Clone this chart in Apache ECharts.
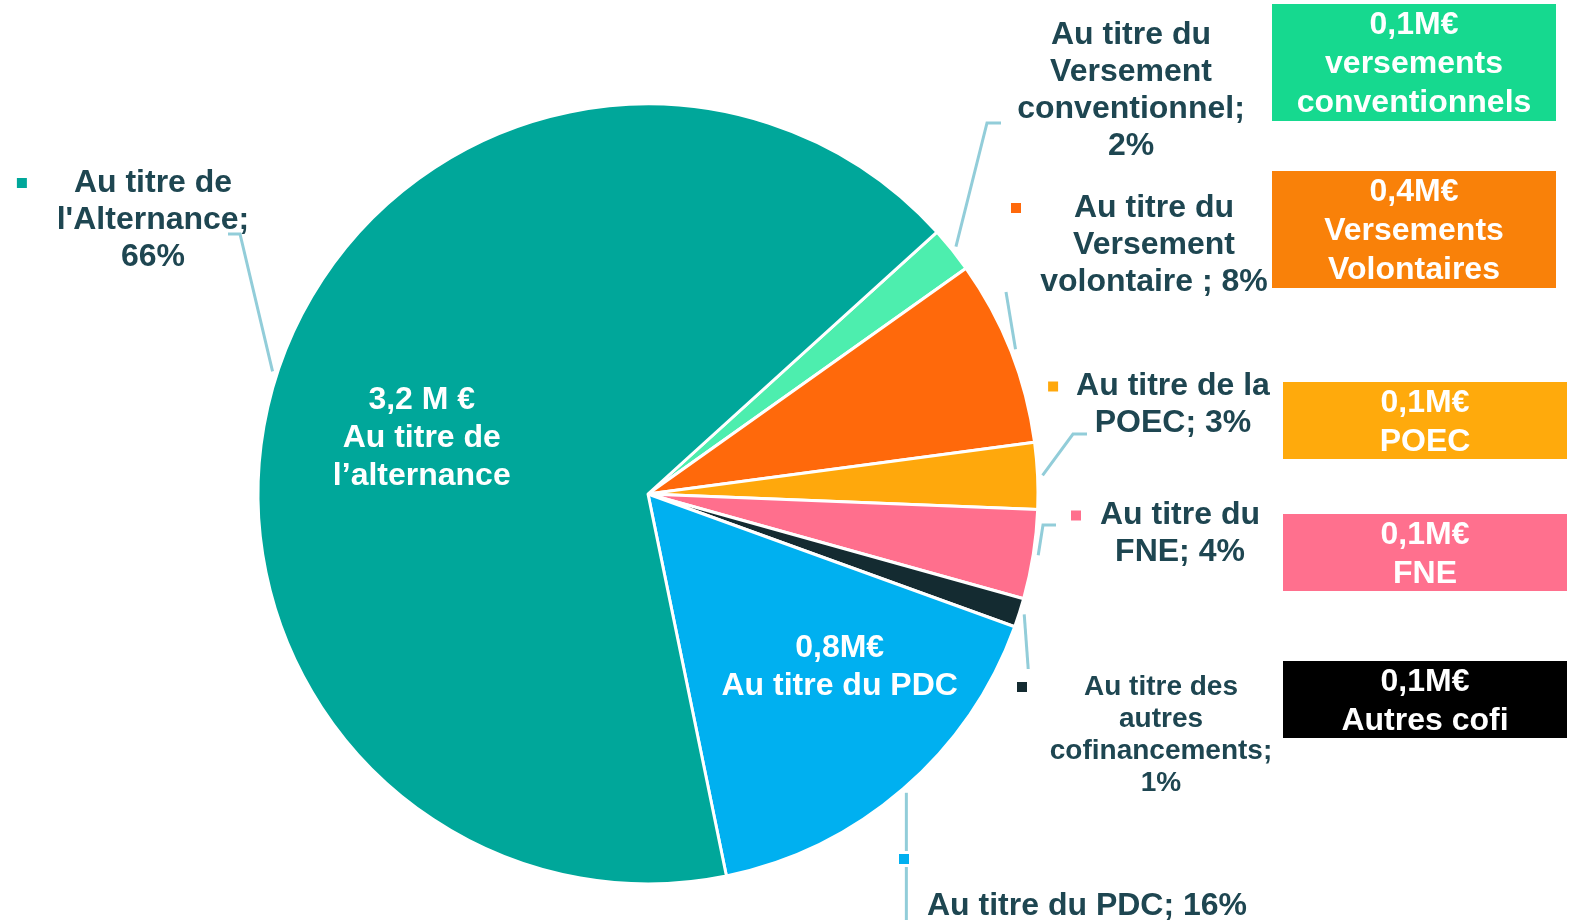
<!DOCTYPE html>
<html>
<head>
<meta charset="utf-8">
<script src="https://cdn.jsdelivr.net/npm/echarts@6/dist/echarts.min.js"></script>
<style>
html, body { margin: 0; padding: 0; background: #fff; }
#chart { width: 1575px; height: 920px; }
</style>
</head>
<body>
<div id="chart"></div>
<script>
// slices, clockwise from the top right
const categories = ['Versement conventionnel', 'Versement volontaire', 'POEC', 'FNE', 'Autres cofinancements', 'PDC', 'Alternance'];
const shares = [1.9, 7.7, 2.75, 3.7, 1.2, 16.25, 66.5];
const sliceColors = ['#4DEEAE', '#FF690B', '#FFA80C', '#FF6F8D', '#142B31', '#00B0F0', '#00A79A'];

// outside labels (line 1 may carry the colour key)
const labelLines = [
    ['Au titre du', 'Versement', 'conventionnel;', '2%'],
    ['Au titre du', 'Versement', 'volontaire ; 8%'],
    ['Au titre de la', 'POEC; 3%'],
    ['Au titre du', 'FNE; 4%'],
    ['Au titre des', 'autres', 'cofinancements;', '1%'],
    ['Au titre du PDC; 16%'],
    ['Au titre de', "l'Alternance;", '66%']
];
// labels written inside the two big slices
const innerLabels = ['', '', '', '', '', '0,8M€\nAu titre du PDC', '3,2 M €\nAu titre de\nl’alternance'];

// coloured amount boxes on the right
const boxTexts = ['0,1M€\nversements\nconventionnels', '0,4M€\nVersements\nVolontaires', '0,1M€\nPOEC', '0,1M€\nFNE', '0,1M€\nAutres cofi'];
const boxColors = ['#16D98F', '#F98109', '#FFAA0C', '#FF708E', '#000000'];

const FONT = '"Liberation Sans", Arial, sans-serif';
const TEXT_COLOR = '#1E4651';
const LINE_COLOR = '#92CDD9';
const CENTER = [648, 494];

// where each outside label sits and how its leader line bends
const placement = [
    { x: 1131, y: 91, key: 'none', bends: [[987, 123], [1001, 123]] },
    { x: 1154, y: 245, key: 'first', gap: 53, bends: [[1006, 292]] },
    { x: 1173, y: 405, key: 'first', gap: 18, bends: [[1073, 434], [1087, 434]] },
    { x: 1180, y: 534, key: 'first', gap: 19, bends: [[1043, 525], [1056, 525]] },
    { x: 1161, y: 735, key: 'first', gap: 57, small: true, bends: 'down' },
    { x: 899, y: 876, key: 'above', align: 'left', bends: 'through' },
    { x: 153, y: 220, key: 'first', gap: 47, bends: [[240, 234], [228, 234]] }
];
const boxPlaces = [
    { x: 1272, y: 4, w: 284, h: 117 },
    { x: 1272, y: 171, w: 284, h: 117 },
    { x: 1283, y: 382, w: 284, h: 77 },
    { x: 1283, y: 514, w: 284, h: 77 },
    { x: 1283, y: 661, w: 284, h: 77 }
];
const innerOffsets = [null, null, null, null, null, [36, -7], [0, 18]];

function outerLabel(i) {
    const p = placement[i];
    const lines = labelLines[i];
    const size = p.small ? 28 : 32;
    const lh = p.small ? 32 : 37;
    const rich = {
        t: { fontSize: size, lineHeight: lh, fontWeight: 'bold', color: TEXT_COLOR, fontFamily: FONT },
        sq: { width: 10, height: 10, backgroundColor: sliceColors[i], borderColor: '#fff', borderWidth: 3, lineHeight: lh },
        g: { width: p.gap || 0, lineHeight: lh },
        s: { width: 10, lineHeight: lh }
    };
    let text;
    if (p.key === 'first') {
        text = lines.map((l, k) => k === 0 ? '{sq|}{g|}{t|' + l + '}{g|}{s|}' : '{t|' + l + '}').join('\n');
    } else if (p.key === 'above') {
        rich.sq.lineHeight = 60;
        rich.t.lineHeight = 34;
        rich.t.padding = [0, 0, 0, 28];
        text = '{sq|}\n{t|' + lines.join('') + '}';
    } else {
        text = lines.map(l => '{t|' + l + '}').join('\n');
    }
    return { show: true, formatter: text, rich: rich, align: p.align || 'center' };
}

const outerData = categories.map((c, i) => ({
    name: c,
    value: shares[i],
    itemStyle: { color: sliceColors[i] },
    label: outerLabel(i)
}));

const innerData = categories.map((c, i) => ({
    name: c,
    value: shares[i],
    label: innerLabels[i] ? {
        show: true,
        position: 'inside',
        formatter: innerLabels[i],
        offset: innerOffsets[i],
        color: '#fff',
        fontSize: 32,
        lineHeight: 38,
        fontWeight: 'bold',
        fontFamily: FONT
    } : { show: false }
}));

const chart = echarts.init(document.getElementById('chart'));

const graphics = [];
boxTexts.forEach((t, i) => {
    const b = boxPlaces[i];
    graphics.push({
        type: 'rect',
        shape: { x: b.x, y: b.y, width: b.w, height: b.h },
        style: { fill: boxColors[i] }
    });
    graphics.push({
        type: 'text',
        x: b.x + b.w / 2,
        y: b.y + b.h / 2 + 2,
        style: {
            text: t,
            fill: '#fff',
            font: 'bold 32px ' + FONT,
            lineHeight: 39,
            align: 'center',
            verticalAlign: 'middle'
        }
    });
});

chart.setOption({
    backgroundColor: '#fff',
    animation: false,
    graphic: graphics,
    series: [
        {
            type: 'pie',
            center: CENTER,
            radius: [0, 390],
            startAngle: 42.2,
            clockwise: true,
            avoidLabelOverlap: false,
            minShowLabelAngle: 0,
            silent: true,
            itemStyle: { borderColor: '#fff', borderWidth: 3 },
            label: { position: 'outside', alignTo: 'none' },
            labelLine: {
                show: true,
                length: 12,
                length2: 8,
                lineStyle: { color: LINE_COLOR, width: 3 }
            },
            labelLayout: function (params) {
                const p = placement[params.dataIndex];
                const pts = params.labelLinePoints;
                let start = null;
                if (pts && pts.length > 1) {
                    const dx = pts[1][0] - pts[0][0];
                    const dy = pts[1][1] - pts[0][1];
                    const len = Math.sqrt(dx * dx + dy * dy) || 1;
                    start = [pts[0][0] + 5 * dx / len, pts[0][1] + 5 * dy / len];
                }
                let linePts;
                if (start) {
                    if (p.bends === 'down') {
                        linePts = [start, [start[0] + 4, 669]];
                    } else if (p.bends === 'through') {
                        linePts = [start, [start[0], 920]];
                    } else {
                        linePts = [start].concat(p.bends);
                    }
                }
                const out = { x: p.x, y: p.y, align: p.align || 'center', verticalAlign: 'middle' };
                if (linePts) out.labelLinePoints = linePts;
                return out;
            },
            emphasis: { disabled: true },
            data: outerData
        },
        {
            type: 'pie',
            center: CENTER,
            radius: [0, 470],
            startAngle: 42.2,
            clockwise: true,
            silent: true,
            z: 3,
            itemStyle: { color: 'rgba(0,0,0,0)', borderWidth: 0 },
            labelLine: { show: false },
            emphasis: { disabled: true },
            data: innerData
        }
    ]
});
</script>
</body>
</html>
